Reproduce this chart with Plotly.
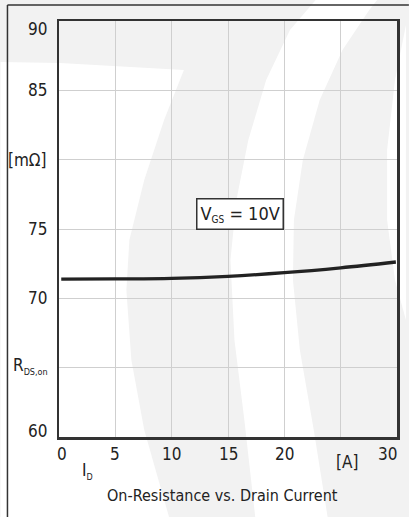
import plotly.graph_objects as go

# ---- data ----
id_current = [0.2, 5, 10, 15, 20, 25, 29.9]
rds_on = [71.38, 71.40, 71.44, 71.59, 71.85, 72.20, 72.62]

x_tick_vals = [0, 5, 10, 15, 20, 30]
x_tick_text = ["0", "5", "10", "15", "20", "30"]
y_tick_vals = [60, 65, 70, 75, 80, 85, 90]
y_tick_text = ["60", "R<sub><span style='font-size:9px'>DS,on</span></sub>", "70", "75", "[mΩ]", "85", "90"]

FONT = "DejaVu Sans Condensed"
W, H = 409, 517
L, R, T, B = 59, 400, 21, 437

def px(x):
    return (x - L) / (R - L)

def py(y):
    return (B - y) / (B - T)

def path(points):
    s = "M %.4f,%.4f" % (px(points[0][0]), py(points[0][1]))
    for (a, b) in points[1:]:
        s += " L %.4f,%.4f" % (px(a), py(b))
    return s + " Z"

fig = go.Figure()
fig.add_trace(go.Scatter(x=id_current, y=rds_on, mode="lines",
                         line=dict(color="#222222", width=3.3, shape="spline"),
                         hoverinfo="skip", showlegend=False))

shapes = []
# watermark (decorative)
white_left = [(0, 62), (60, 63), (185, 70), (165, 120), (145, 180), (130, 240), (127, 290),
              (132, 360), (145, 430), (170, 517), (0, 517)]
white_mid = [(318, 0), (292, 30), (268, 80), (250, 140), (238, 200), (232, 260), (236, 340),
             (246, 420), (257, 517), (330, 517), (316, 430), (302, 350), (295, 280),
             (296, 220), (305, 160), (322, 100), (345, 50), (372, 10), (380, 0)]
white_right = [(409, 25), (398, 80), (390, 150), (390, 220), (398, 280), (409, 320)]
for poly in (white_left, white_mid, white_right):
    shapes.append(dict(type="path", xref="paper", yref="paper", path=path(poly),
                       fillcolor="#ffffff", line=dict(width=0), layer="below"))
# outer frame
shapes.append(dict(type="line", xref="paper", yref="paper", x0=px(7), x1=px(7), y0=py(5), y1=py(520),
                   line=dict(color="#333333", width=1.5)))
shapes.append(dict(type="line", xref="paper", yref="paper", x0=px(7), x1=px(412), y0=py(5), y1=py(5),
                   line=dict(color="#333333", width=1.5)))

ann = []
tick_font = dict(family=FONT, size=17, color="#222222")
for v, t in zip(x_tick_vals, x_tick_text):
    xs = 3 if v == 0 else (-10 if v == 30 else 0)
    ann.append(dict(x=v, y=60, xref="x", yref="y", text=t, showarrow=False, font=tick_font,
                    xanchor="center", yanchor="middle", xshift=xs, yshift=-17))
ann.append(dict(x=25, y=60, xref="x", yref="y", text="[A]", showarrow=False, font=tick_font,
                xanchor="center", yanchor="middle", xshift=6, yshift=-25))
ann.append(dict(x=2.5, y=60, xref="x", yref="y",
                text="I<sub><span style='font-size:9px'>D</span></sub>", showarrow=False, font=tick_font,
                xanchor="center", yanchor="middle", yshift=-34))
for v, t in zip(y_tick_vals, y_tick_text):
    ys = -8 if v == 90 else (6 if v == 60 else 0)
    if v == 65:
        ann.append(dict(x=0, y=v, xref="x", yref="y", text=t, showarrow=False, font=tick_font,
                        xanchor="right", yanchor="middle", xshift=-9, yshift=2))
    else:
        ann.append(dict(x=0, y=v, xref="x", yref="y", text=t, showarrow=False, font=tick_font,
                        xanchor="right", yanchor="middle", xshift=-10, yshift=ys))
ann.append(dict(x=0.5, y=py(495), xref="paper", yref="paper", text="On-Resistance vs. Drain Current",
                showarrow=False, font=dict(family=FONT, size=16, color="#222222"),
                xanchor="center", yanchor="middle", xshift=-6))
ann.append(dict(x=16.1, y=76.1, xref="x", yref="y",
                text="V<sub><span style='font-size:10px'>GS</span></sub> = 10V", showarrow=False,
                font=dict(family=FONT, size=18, color="#222222"),
                bgcolor="#ffffff", bordercolor="#333333", borderwidth=1.5, borderpad=3,
                xanchor="center", yanchor="middle"))

fig.update_layout(
    width=W, height=H,
    margin=dict(l=L, r=W - R, t=T, b=H - B, pad=0),
    paper_bgcolor="#f2f2f2", plot_bgcolor="rgba(0,0,0,0)",
    shapes=shapes, annotations=ann, showlegend=False,
    xaxis=dict(range=[0, 30], tickvals=[0, 5, 10, 15, 20, 25, 30], showticklabels=False,
               showgrid=True, gridcolor="#cfcfcf", gridwidth=1, zeroline=False,
               showline=True, mirror=True, linecolor="#333333", linewidth=2.5, ticks=""),
    yaxis=dict(range=[60, 90], tickvals=y_tick_vals, showticklabels=False,
               showgrid=True, gridcolor="#cfcfcf", gridwidth=1, zeroline=False,
               showline=True, mirror=True, linecolor="#333333", linewidth=2.5, ticks=""),
)

fig.write_html("out.html", config={"staticPlot": True},
               post_script="document.body.style.margin='0';document.body.style.overflow='hidden';")
